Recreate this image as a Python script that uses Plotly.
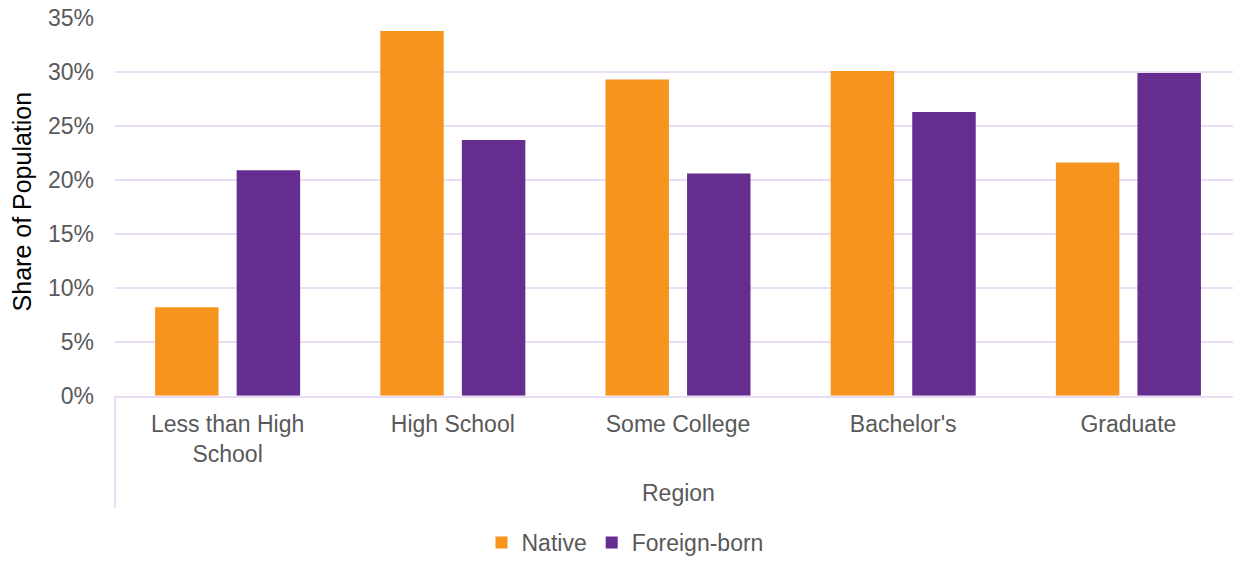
import plotly.graph_objects as go

categories = ["Less than High<br>School", "High School", "Some College", "Bachelor's", "Graduate"]
native = [8.2, 33.8, 29.3, 30.1, 21.6]
foreign_born = [20.9, 23.7, 20.6, 26.3, 29.9]
y_ticks = [0, 5, 10, 15, 20, 25, 30, 35]

ORANGE = "#F7941D"
PURPLE = "#662D91"
GRID = "#EADCF3"
GRAY = "#595959"
FONT = "Liberation Sans, Arial, sans-serif"

fig = go.Figure()
fig.add_trace(go.Bar(name="Native", x=categories, y=native, marker=dict(color=ORANGE, line=dict(width=0))))
fig.add_trace(go.Bar(name="Foreign-born", x=categories, y=foreign_born, marker=dict(color=PURPLE, line=dict(width=0))))

W, H = 1233, 564
T, B = 18, 40
paper_h = H - T - B
PLOT_LEFT = 115


def px(xp):
    return xp / W


def py(yp):
    return (H - B - yp) / paper_h


fig.update_layout(
    width=W, height=H,
    margin=dict(l=0, r=0, t=T, b=B, pad=0),
    paper_bgcolor="white", plot_bgcolor="white",
    barmode="group", bargap=0.2755, bargroupgap=0.222,
    font=dict(family=FONT, size=23, color=GRAY),
    showlegend=True,
    legend=dict(orientation="h", x=px(625), xanchor="center", y=py(550), yanchor="middle",
                font=dict(size=23, color=GRAY), itemwidth=30, traceorder="normal"),
    xaxis=dict(domain=[px(PLOT_LEFT), 1], range=[-0.5, 4.4645],
               showline=True, linecolor=GRID, linewidth=2, showgrid=False, ticks="",
               ticklabelstandoff=7, tickfont=dict(size=23, color=GRAY), automargin=False),
    yaxis=dict(domain=[py(401), 1], range=[0, 35], tickvals=y_ticks,
               ticktext=[f"{v}%" for v in y_ticks],
               showgrid=True, gridcolor=GRID, gridwidth=2, zeroline=False, showline=False,
               ticks="", ticklabelstandoff=20, tickfont=dict(size=23, color=GRAY), automargin=False),
    annotations=[
        dict(text="Share of Population", textangle=-90, xref="paper", yref="paper",
             x=px(22), y=py(204), xanchor="center", yanchor="middle",
             showarrow=False, font=dict(size=25, color="#000000", family=FONT)),
        dict(text="Region", xref="paper", yref="paper",
             x=px(678), y=py(500), xanchor="center", yanchor="middle",
             showarrow=False, font=dict(size=23, color=GRAY, family=FONT)),
    ],
    shapes=[
        dict(type="line", xref="paper", yref="paper", x0=px(PLOT_LEFT), x1=px(PLOT_LEFT),
             y0=py(401), y1=py(515), line=dict(color=GRID, width=2)),
    ],
)

fig.write_html("out.html")
